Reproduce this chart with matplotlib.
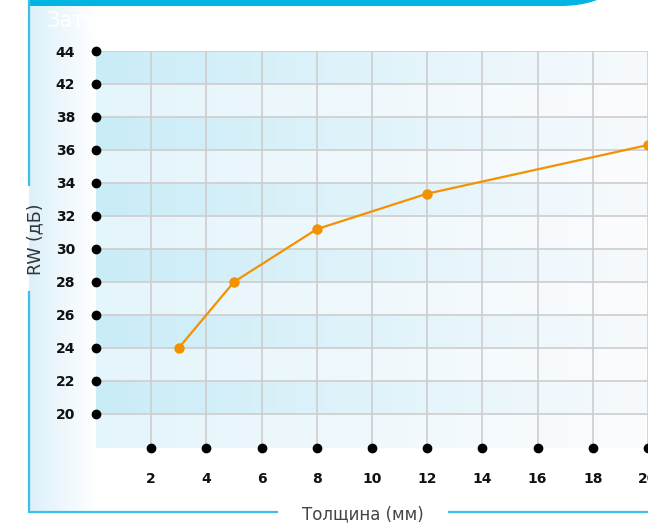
import numpy as np
import matplotlib
matplotlib.use('Agg')
import matplotlib.pyplot as plt
from matplotlib.patches import FancyBboxPatch, Rectangle

# Data
thickness = [3, 5, 8, 12, 20]
rw = [24, 28, 31.2, 33.35, 36.3]
x_ticks = [2, 4, 6, 8, 10, 12, 14, 16, 18, 20]
y_tick_labels = ['20', '22', '24', '26', '28', '30', '32', '34', '36', '38', '42', '44']
y_tick_pos = [20, 22, 24, 26, 28, 30, 32, 34, 36, 38, 40, 42]

W, H = 648, 527
fig = plt.figure(figsize=(W / 100, H / 100), dpi=100)

# background layer in pixel coords
bg = fig.add_axes([0, 0, 1, 1], zorder=0)
bg.set_xlim(0, W)
bg.set_ylim(H, 0)
bg.axis('off')

def grad(c1, c2, n=256):
    c1 = np.array(matplotlib.colors.to_rgb(c1))
    c2 = np.array(matplotlib.colors.to_rgb(c2))
    t = np.linspace(0, 1, n)[None, :, None]
    return c1 + (c2 - c1) * t

# pale panel on the left
bg.imshow(grad('#dcf0fa', '#ffffff'), extent=[29, 97, 512, 0], aspect='auto', zorder=0)

# top banner (square left end, rounded right end)
banner = FancyBboxPatch((-300, -200), 938, 206, boxstyle='round,pad=0,rounding_size=78',
                        facecolor='#00b5e2', edgecolor='none', zorder=2)
bg.add_patch(banner)
clip = Rectangle((29, -10), 700, 30, transform=bg.transData)
banner.set_clip_path(clip)
bg.text(47, 27, 'Затухание', color='white', fontsize=15, zorder=1)

# frame lines
blue = '#3cc0ea'
bg.plot([29, 29], [0, 186], color=blue, lw=1.6, solid_capstyle='butt')
bg.plot([29, 29, 277], [292, 512, 512], color=blue, lw=1.6, solid_joinstyle='miter')
bg.plot([449, W], [512, 512], color=blue, lw=1.6)

bg.text(35, 239, 'RW (дБ)', rotation=90, ha='center', va='center',
        fontsize=12.5, color='#333333')
bg.text(363, 514, 'Толщина (мм)', ha='center', va='center', fontsize=12, color='#444444')

# main plot
x_max = 19.96
y_min, y_max = 17.93, 42
ax = fig.add_axes([96 / W, (H - 448) / H, 1 - 96 / W, (448 - 51) / H], zorder=1)
ax.set_xlim(0, x_max)
ax.set_ylim(y_min, y_max)
ax.patch.set_visible(False)
for s in ax.spines.values():
    s.set_visible(False)

# striped gradient background
bands = [y_min] + y_tick_pos
for i in range(len(bands) - 1):
    if i % 2 == 1:
        img = grad('#c9ecf7', '#f7fafd')
    else:
        img = grad('#e4f5fb', '#fbfcfe')
    ax.imshow(img, extent=[0, x_max, bands[i], bands[i + 1]], aspect='auto', zorder=0)

ax.set_xticks(x_ticks)
ax.set_yticks(y_tick_pos)
ax.set_yticklabels(y_tick_labels)
ax.tick_params(length=0)
ax.tick_params(axis='y', pad=15)
ax.tick_params(axis='x', pad=17)
for lab in ax.get_xticklabels() + ax.get_yticklabels():
    lab.set_fontweight('bold')
    lab.set_fontsize(10)
    lab.set_color('#111111')

ax.grid(True, color='#cdcdcd', lw=1.2, zorder=1)
ax.set_axisbelow(False)

# tick dots
ax.plot(np.zeros(len(y_tick_pos)), y_tick_pos, 'o', color='black', ms=6,
        clip_on=False, zorder=5)
ax.plot(x_ticks, np.full(len(x_ticks), y_min), 'o', color='black', ms=6,
        clip_on=False, zorder=5)

ax.plot(thickness, rw, '-o', color='#f39200', lw=1.6, ms=6.5, zorder=6)

fig.savefig('out.png', dpi=100)
